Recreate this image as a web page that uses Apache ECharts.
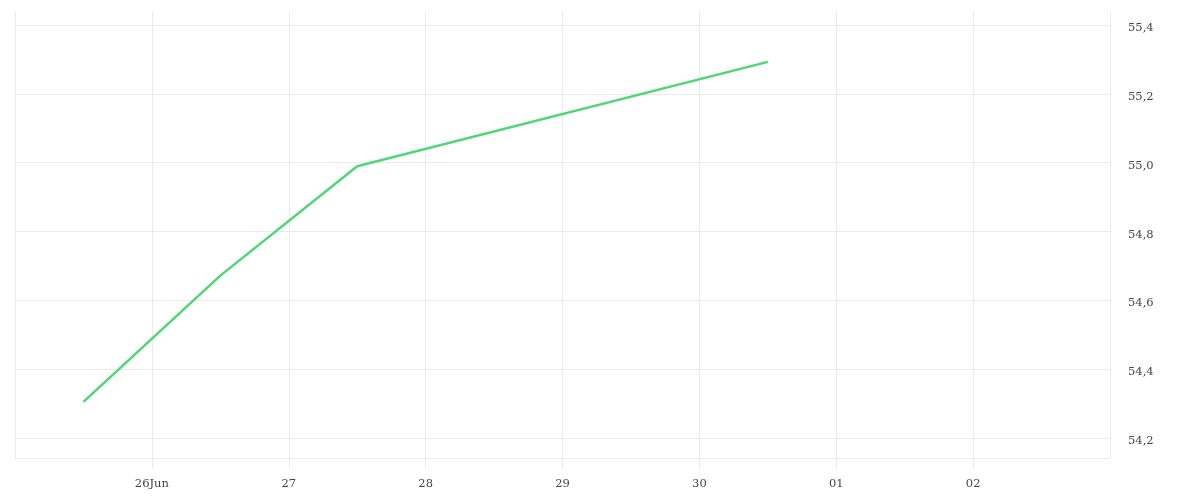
<!DOCTYPE html>
<html>
<head>
<meta charset="utf-8">
<script src="https://cdn.jsdelivr.net/npm/echarts@6/dist/echarts.min.js"></script>
<style>
html,body{margin:0;padding:0;background:#fff;}
#chart{width:1200px;height:500px;}
</style>
</head>
<body>
<div id="chart"></div>
<script>
// Data (timestamps as UTC dates, values)
const dates = ['2024-06-25T12:00:00Z', '2024-06-26T12:00:00Z', '2024-06-27T12:00:00Z', '2024-06-30T12:00:00Z'];
const values = [54.305, 54.672, 54.99, 55.293];
const xMin = '2024-06-25T00:00:00Z';
const xMax = '2024-07-03T00:00:00Z';
const yMin = 54.142;
const yMax = 55.438;

const DAY = 86400000;
const chart = echarts.init(document.getElementById('chart'));
const gridColor = '#eaeaea';
const font = 'DejaVu Serif';

chart.setOption({
  animation: false,
  grid: { left: 15, right: 90, top: 12, bottom: 42, containLabel: false },
  xAxis: {
    type: 'value',
    min: Date.parse(xMin),
    max: Date.parse(xMax),
    interval: DAY,
    axisLine: { show: true, lineStyle: { color: gridColor, width: 1 } },
    axisTick: { show: true, inside: false, length: 10, lineStyle: { color: gridColor, width: 1 } },
    splitLine: { show: true, lineStyle: { color: gridColor } },
    axisLabel: {
      margin: 20,
      color: '#444',
      fontFamily: font,
      fontSize: 11.5,
      showMinLabel: false,
      showMaxLabel: false,
      formatter: function (v) {
        const d = new Date(v);
        const day = String(d.getUTCDate()).padStart(2, '0');
        if (v === Date.parse('2024-06-26T00:00:00Z')) return day + 'Jun';
        return day;
      }
    }
  },
  yAxis: {
    type: 'value',
    position: 'right',
    min: yMin,
    max: yMax,
    splitNumber: 6,
    axisLine: { show: false },
    axisTick: { show: false },
    splitLine: { show: true, showMinLine: false, showMaxLine: false, lineStyle: { color: gridColor } },
    axisLabel: {
      margin: 18,
      color: '#444',
      fontFamily: font,
      fontSize: 11.5,
      showMinLabel: false,
      showMaxLabel: false,
      formatter: function (v) {
        return '{a|' + v.toFixed(1).replace('.', ',') + '}';
      },
      rich: {
        a: { fontFamily: font, fontSize: 11.5, color: '#444', padding: [6, 0, 0, 0] }
      }
    }
  },
  series: [{
    type: 'line',
    data: dates.map((d, i) => [Date.parse(d), values[i]]),
    showSymbol: false,
    symbol: 'none',
    lineStyle: { color: '#4fd675', width: 2.5 },
    itemStyle: { color: '#4fd675' }
  }]
});
</script>
</body>
</html>
